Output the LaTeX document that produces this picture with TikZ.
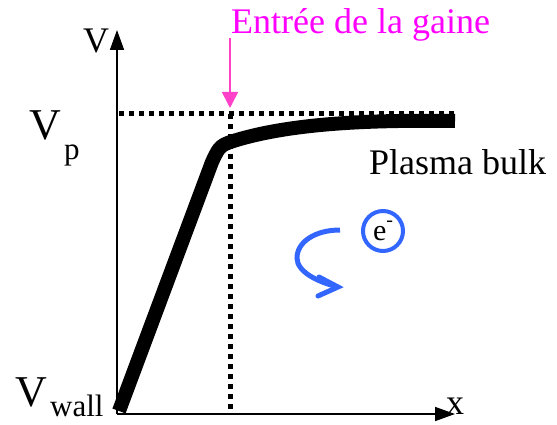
\documentclass[tikz,border=0pt]{standalone}
\usepackage{fontspec}
\setmainfont{Liberation Serif}
\usetikzlibrary{arrows.meta}
\definecolor{magtext}{RGB}{255,0,255}
\definecolor{magarrow}{RGB}{255,64,200}
\definecolor{eblue}{RGB}{51,102,255}
\tikzset{
  axis/.style={line width=1.6pt,-{Triangle[length=20pt,width=14pt]}},
  dotline/.style={line width=5pt,dash pattern=on 5pt off 5pt},
  curve/.style={line width=14pt,line join=round},
  lbl/.style={inner sep=0pt,font=\fontsize{36}{40}\selectfont},
  biglbl/.style={inner sep=0pt,font=\fontsize{44}{48}\selectfont},
  sublbl/.style={inner sep=0pt,font=\fontsize{31}{34}\selectfont}
}
\begin{document}
\begin{tikzpicture}[x=1pt,y=-1pt]
\useasboundingbox (0,0) rectangle (557,425);
% axes
\coordinate (O) at (117,414);
\coordinate (Ytop) at (117,30);
\coordinate (Xend) at (455,414);
\draw[axis] (O) -- (Ytop);
\draw[axis] (O) -- (Xend);
% dotted guide lines
\coordinate (Hl) at (119,114);
\coordinate (Hr) at (458,114);
\coordinate (Vt) at (230,114);
\coordinate (Vb) at (230,414);
\draw[dotline] (Hl) -- (Hr);
\draw[dotline] (Vt) -- (Vb);
% potential curve
\coordinate (C0) at (119,411);
\coordinate (C1) at (212,162);
\coordinate (C2) at (240,139);
\coordinate (C3) at (455,121);
\draw[curve] (C0) -- (C1) .. controls (220,145) .. (C2) .. controls (300,122) and (380,120) .. (C3);
% labels
\node[lbl,anchor=base west] (Vlab) at (83,53) {V};
\node[biglbl,anchor=base west] (Vp) at (29,140) {V};
\node[sublbl,anchor=base west] (p) at (64,160) {p};
\node[biglbl,anchor=base west] (Vw) at (15,406) {V};
\node[sublbl,anchor=base west] (wall) at (50,416) {wall};
\node[lbl,anchor=base west] (xlab) at (446,414) {x};
\node[lbl,anchor=base west] (bulk) at (369,175) {Plasma bulk};
% sheath entrance
\node[lbl,anchor=base west,text=magtext] (entree) at (231,34) {Entrée de la gaine};
\coordinate (Mtop) at (230,38);
\coordinate (Mtip) at (230,108);
\draw[magarrow,line width=1.6pt,-{Triangle[length=16pt,width=16pt]}] (Mtop) -- (Mtip);
% electron
\node[draw=eblue,line width=4pt,circle,minimum size=40pt,inner sep=0pt,font=\fontsize{30}{34}\selectfont] (el) at (383,231) {e\raisebox{0.45em}{\fontsize{20}{22}\selectfont -}};
\coordinate (A0) at (340,230);
\coordinate (A1) at (338,287);
\coordinate (H1) at (319,277);
\coordinate (H2) at (318,296);
\draw[eblue,line width=5pt] (A0) .. controls (315,230) and (297,242) .. (297,258) .. controls (297,272) and (318,282) .. (A1);
\draw[eblue,line width=5pt,line join=miter,line cap=round] (H1) -- (A1) -- (H2);
\end{tikzpicture}
\end{document}
